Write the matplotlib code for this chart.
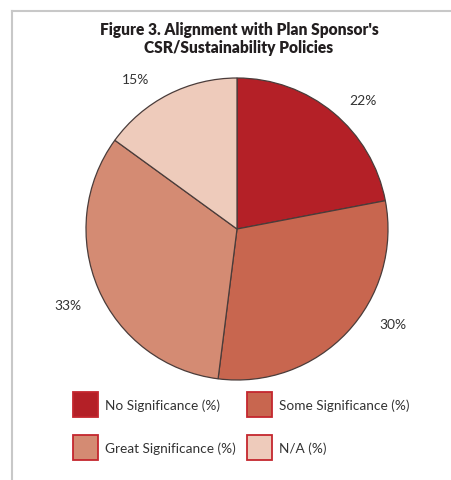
import numpy as np
import matplotlib.pyplot as plt
from matplotlib.patches import Rectangle
from matplotlib.lines import Line2D

categories = ["No Significance (%)", "Some Significance (%)", "Great Significance (%)", "N/A (%)"]
values = [22, 30, 33, 15]
colors = ["#b42027", "#c8664f", "#d48b73", "#eecbbb"]
title = "Figure 3. Alignment with Plan Sponsor's\nCSR/Sustainability Policies"
label_shift = [-4.7, 11.9, 0.8, 7.2]  # degrees, nudges the % labels like the original
label_dist = [1.19, 1.21, 1.23, 1.2]

W, H = 452, 481
FONT = "Lato"
fig = plt.figure(figsize=(W / 100, H / 100), dpi=100)
fig.patch.set_facecolor("white")

# gray frame: top and left lines only
fig.add_artist(Line2D([12 / W, 1.0], [1 - 12 / H, 1 - 12 / H], color="#c8c8c8", lw=1.5))
fig.add_artist(Line2D([12 / W, 12 / W], [0, 1 - 12 / H], color="#c8c8c8", lw=1.5))

fig.text(239 / W, 1 - 39 / H, title, ha="center", va="center", fontsize=11.2,
         fontweight="heavy", family=FONT, color="#231f20", linespacing=1.15)

# pie
cx, cy, r = 237, 230, 151
ax = fig.add_axes([(cx - r) / W, (H - cy - r) / H, 2 * r / W, 2 * r / H])
wedges, texts = ax.pie(values, colors=colors, startangle=90, counterclock=False,
                       labels=[f"{v}%" for v in values], labeldistance=1.2,
                       wedgeprops=dict(edgecolor="#4a3c3a", linewidth=0.9),
                       textprops=dict(fontsize=10, color="#333333", family=FONT))
for w, t, s, d in zip(wedges, texts, label_shift, label_dist):
    a = np.deg2rad((w.theta1 + w.theta2) / 2 + s)
    t.set_position((d * np.cos(a), d * np.sin(a)))
    t.set_ha("center")
    t.set_va("center")
ax.set_xlim(-1, 1)
ax.set_ylim(-1, 1)
ax.set_aspect("equal")
ax.axis("off")

# legend drawn by hand
pos = [(73, 393), (247, 393), (73, 436), (247, 436)]
for (x, y), lab, c in zip(pos, categories, colors):
    fig.add_artist(Rectangle((x / W, 1 - (y + 25) / H), 25 / W, 25 / H,
                             facecolor=c, edgecolor="#c4262e", lw=1.3))
    fig.text((x + 32) / W, 1 - (y + 13) / H, lab, ha="left", va="center",
             fontsize=9.8, family=FONT, color="#333333")

fig.savefig("out.png", dpi=100)
